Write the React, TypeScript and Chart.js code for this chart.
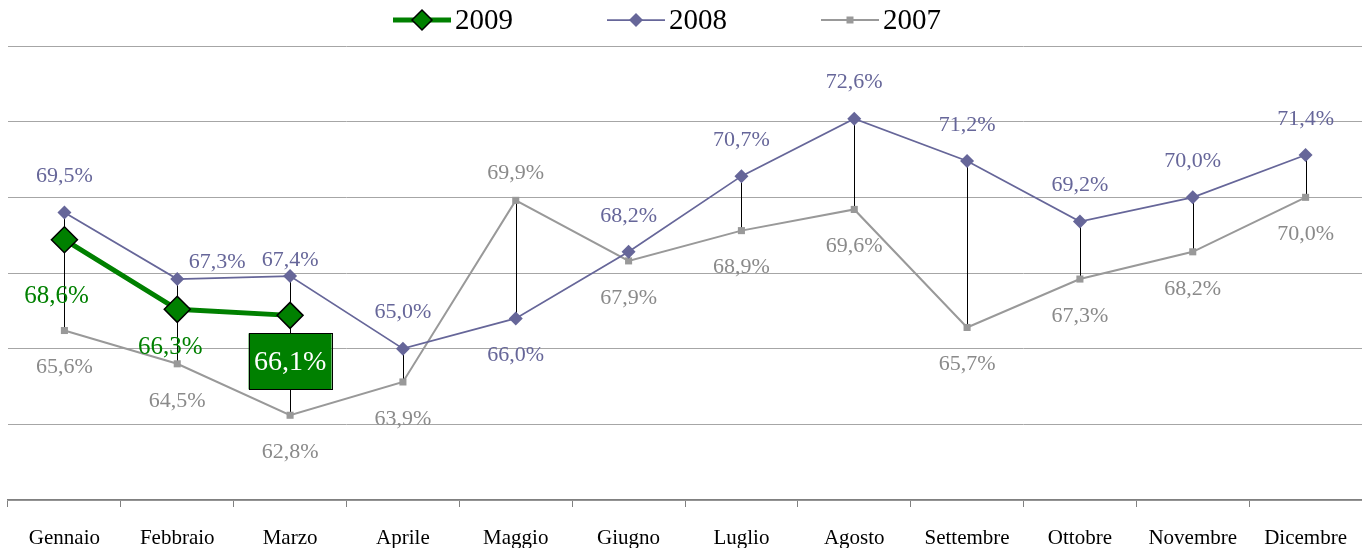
import React, { useEffect, useRef } from "react";
import { Chart, registerables } from "chart.js";

Chart.register(...registerables);

const months = [
  "Gennaio", "Febbraio", "Marzo", "Aprile", "Maggio", "Giugno",
  "Luglio", "Agosto", "Settembre", "Ottobre", "Novembre", "Dicembre",
];
const series2009: (number | null)[] = [68.6, 66.3, 66.1, null, null, null, null, null, null, null, null, null];
const series2008 = [69.5, 67.3, 67.4, 65.0, 66.0, 68.2, 70.7, 72.6, 71.2, 69.2, 70.0, 71.4];
const series2007 = [65.6, 64.5, 62.8, 63.9, 69.9, 67.9, 68.9, 69.6, 65.7, 67.3, 68.2, 70.0];
const seriesNames = ["2009", "2008", "2007"];
const yMin = 60;
const yMax = 75;
const yStep = 2.5;

const FONT = '"Liberation Serif", "Times New Roman", serif';
const GREEN = "#008000";
const PURPLE = "#666699";
const GRAY = "#999999";
const GRAY_TEXT = "#8a8a8a";

const fmt = (v: number) => v.toFixed(1).replace(".", ",") + "%";

function diamond(ctx: CanvasRenderingContext2D, x: number, y: number, r: number) {
  ctx.beginPath();
  ctx.moveTo(x - r, y);
  ctx.lineTo(x, y - r);
  ctx.lineTo(x + r, y);
  ctx.lineTo(x, y + r);
  ctx.closePath();
}

const dropLines = {
  id: "dropLines",
  beforeDatasetsDraw(chart: any) {
    const { ctx } = chart;
    const ys = chart.scales.y;
    const xs = chart.scales.x;
    ctx.save();
    ctx.strokeStyle = "#000000";
    ctx.lineWidth = 1;
    months.forEach((_, i) => {
      const vals = [series2009[i], series2008[i], series2007[i]].filter(
        (v) => v !== null && v !== undefined
      ) as number[];
      if (vals.length < 2) return;
      const x = Math.round(xs.getPixelForValue(i)) + 0.5;
      ctx.beginPath();
      ctx.moveTo(x, ys.getPixelForValue(Math.max(...vals)));
      ctx.lineTo(x, ys.getPixelForValue(Math.min(...vals)));
      ctx.stroke();
    });
    ctx.restore();
  },
};

const dataLabels = {
  id: "dataLabels",
  afterDatasetsDraw(chart: any) {
    const { ctx } = chart;
    const ys = chart.scales.y;
    const xs = chart.scales.x;
    ctx.save();
    ctx.textAlign = "center";
    ctx.textBaseline = "middle";
    // 2008 and 2007: higher above, lower below
    const tweak2008: Record<number, [number, number]> = { 1: [40, -17], 2: [0, -16] };
    months.forEach((_, i) => {
      const a = series2008[i];
      const b = series2007[i];
      const x = xs.getPixelForValue(i);
      ctx.font = `22px ${FONT}`;
      // 2008
      let dx = 0;
      let dy = a >= b ? -36 : 37;
      if (tweak2008[i]) {
        dx = tweak2008[i][0];
        dy = tweak2008[i][1];
      }
      ctx.fillStyle = PURPLE;
      ctx.fillText(fmt(a), x + dx, ys.getPixelForValue(a) + dy);
      // 2007
      ctx.fillStyle = GRAY_TEXT;
      ctx.fillText(fmt(b), x, ys.getPixelForValue(b) + (b > a ? -27 : 37));
    });
    // 2009
    const dy2009 = [57, 38, 46];
    const dx2009 = [-8, -7, 0];
    const last = series2009.reduce((acc: number, v, i) => (v !== null ? i : acc), -1);
    series2009.forEach((v, i) => {
      if (v === null) return;
      const x = xs.getPixelForValue(i) + dx2009[i];
      const y = ys.getPixelForValue(v) + dy2009[i];
      if (i === last) {
        const w = 83;
        const h = 56;
        ctx.fillStyle = GREEN;
        ctx.fillRect(x - w / 2, y - h / 2, w, h);
        ctx.strokeStyle = "#000000";
        ctx.lineWidth = 1;
        ctx.strokeRect(Math.round(x - w / 2) + 0.5, Math.round(y - h / 2) + 0.5, w, h);
        ctx.fillStyle = "#ffffff";
        ctx.font = `28px ${FONT}`;
        ctx.fillText(fmt(v), x, y + 1);
      } else {
        ctx.fillStyle = GREEN;
        ctx.font = `25px ${FONT}`;
        ctx.fillText(fmt(v), x, y);
      }
    });
    ctx.restore();
  },
};

const legendPlugin = {
  id: "customLegend",
  afterDraw(chart: any) {
    const { ctx } = chart;
    ctx.save();
    ctx.font = `29px ${FONT}`;
    ctx.textBaseline = "middle";
    ctx.textAlign = "left";
    const y = 20;
    let x = 393;
    const lineLen = 58;
    const styles = [
      { color: GREEN, width: 5 },
      { color: PURPLE, width: 1.75 },
      { color: GRAY, width: 2 },
    ];
    seriesNames.forEach((name, k) => {
      const st = styles[k];
      ctx.strokeStyle = st.color;
      ctx.lineWidth = st.width;
      ctx.beginPath();
      ctx.moveTo(x, y);
      ctx.lineTo(x + lineLen, y);
      ctx.stroke();
      const cx = x + lineLen / 2;
      if (k === 0) {
        diamond(ctx, cx, y, 10);
        ctx.fillStyle = GREEN;
        ctx.fill();
        ctx.strokeStyle = "#000";
        ctx.lineWidth = 1.5;
        ctx.stroke();
      } else if (k === 1) {
        diamond(ctx, cx, y, 7);
        ctx.fillStyle = PURPLE;
        ctx.fill();
      } else {
        ctx.fillStyle = GRAY;
        ctx.fillRect(cx - 3.5, y - 3.5, 7, 7);
      }
      ctx.fillStyle = "#000000";
      const tx = x + lineLen + 4;
      ctx.fillText(name, tx, y + 1);
      x = tx + ctx.measureText(name).width + 94;
    });
    ctx.restore();
  },
};

export default function App() {
  const ref = useRef<HTMLCanvasElement | null>(null);
  useEffect(() => {
    if (!ref.current) return;
    const chart = new Chart(ref.current, {
      type: "line",
      data: {
        labels: months,
        datasets: [
          {
            label: seriesNames[0],
            data: series2009,
            borderColor: GREEN,
            backgroundColor: GREEN,
            borderWidth: 5,
            pointStyle: "rectRot",
            pointRadius: 13,
            pointBackgroundColor: GREEN,
            pointBorderColor: "#000000",
            pointBorderWidth: 1.5,
            tension: 0,
          },
          {
            label: seriesNames[1],
            data: series2008,
            borderColor: PURPLE,
            backgroundColor: PURPLE,
            borderWidth: 1.75,
            pointStyle: "rectRot",
            pointRadius: 7,
            pointBackgroundColor: PURPLE,
            pointBorderColor: PURPLE,
            pointBorderWidth: 0,
            tension: 0,
          },
          {
            label: seriesNames[2],
            data: series2007,
            borderColor: GRAY,
            backgroundColor: GRAY,
            borderWidth: 2,
            pointStyle: "rect",
            pointRadius: 5,
            pointBackgroundColor: GRAY,
            pointBorderColor: GRAY,
            pointBorderWidth: 0,
            tension: 0,
          },
        ],
      },
      options: {
        animation: false,
        responsive: true,
        maintainAspectRatio: false,
        layout: { autoPadding: false, padding: { left: 8, right: 0, top: 46, bottom: 0 } },
        plugins: {
          legend: { display: false },
          tooltip: { enabled: false },
        },
        scales: {
          x: {
            offset: true,
            grid: {
              display: true,
              drawOnChartArea: false,
              drawTicks: true,
              tickLength: 7,
              offset: true,
              color: "#808080",
            },
            border: { display: true, color: "#808080", width: 1.5 },
            ticks: {
              color: "#000000",
              font: { family: FONT, size: 21 },
              padding: 19,
              maxRotation: 0,
              autoSkip: false,
            },
            afterFit: (scale: any) => {
              scale.height = 48;
              scale.paddingLeft = 0;
              scale.paddingRight = 0;
            },
          },
          y: {
            min: yMin,
            max: yMax,
            ticks: { display: false, stepSize: yStep },
            grid: { color: "#a6a6a6", drawTicks: false, lineWidth: 1 },
            border: { display: false },
          },
        },
      },
      plugins: [dropLines, dataLabels, legendPlugin],
    });
    return () => chart.destroy();
  }, []);
  return (
    <div style={{ position: "absolute", left: 0, top: 0, width: 1362, height: 548, background: "#fff" }}>
      <canvas ref={ref} />
    </div>
  );
}
